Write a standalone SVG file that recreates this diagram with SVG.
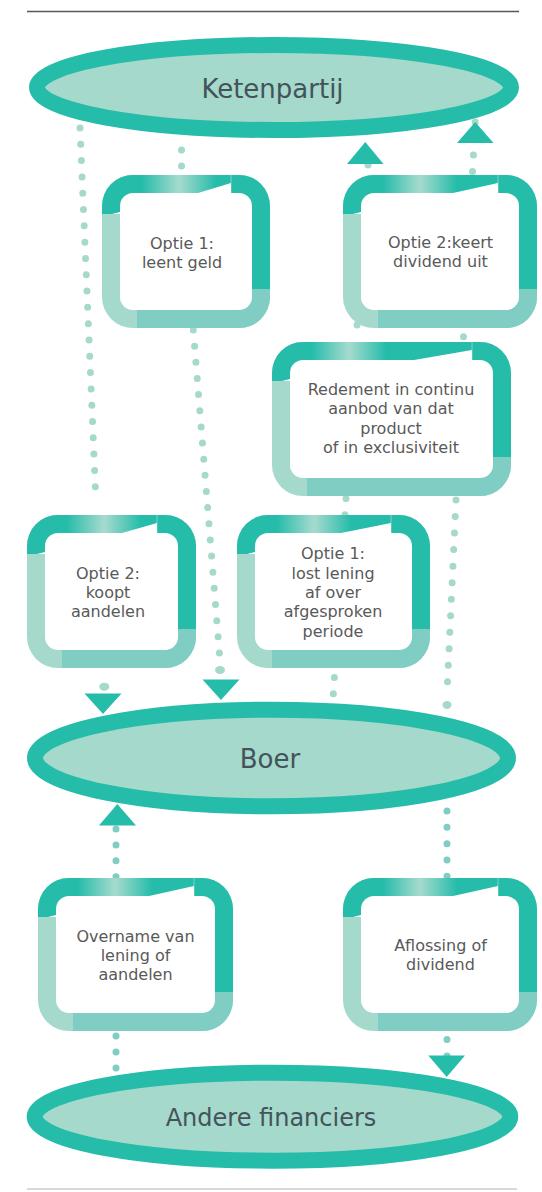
<svg xmlns="http://www.w3.org/2000/svg" width="542" height="1192" viewBox="0 0 542 1192">
<style>
.dk{fill:#26bcaa}
.md{fill:#80cdc3}
.lt{fill:#a4d9cc}
.wh{fill:#ffffff}
.sep{stroke:#7fd3c6;stroke-width:1}
.bt{font-family:"DejaVu Sans",Verdana,sans-serif;font-size:16px;fill:#595959;text-anchor:middle}
.et{font-family:"DejaVu Sans",Verdana,sans-serif;font-size:26px;fill:#44535b;text-anchor:middle}
.ell{fill:#a4d9cb;stroke:#26bcaa;stroke-width:16}
.dot{fill:none;stroke-width:7;stroke-linecap:round}
.dl{stroke:#a4d9cc}
.dm{stroke:#80cdc3}
.arr{fill:#26bcaa}
</style>
<defs>
<linearGradient id="hl" gradientUnits="userSpaceOnUse" x1="40" y1="0" x2="114" y2="0">
<stop offset="0" stop-color="#a6dbce" stop-opacity="0"/>
<stop offset="0.5" stop-color="#a6dbce" stop-opacity="1"/>
<stop offset="1" stop-color="#a6dbce" stop-opacity="0"/>
</linearGradient>
</defs>

<line x1="27" y1="11.5" x2="519" y2="11.5" stroke="#4f5a60" stroke-width="1.6"/>
<line x1="27" y1="1189" x2="517" y2="1189" stroke="#c8cbcd" stroke-width="1.6"/>

<g id="ketenpartij">
<ellipse class="ell" cx="274" cy="87.5" rx="237" ry="42.5"/>
<text class="et" x="272.5" y="98">Ketenpartij</text>
</g>
<g id="boer">
<ellipse class="ell" cx="271.5" cy="758" rx="236.5" ry="48.3"/>
<text class="et" x="270" y="768">Boer</text>
</g>
<g id="andere-financiers">
<ellipse class="ell" cx="272.5" cy="1116.7" rx="237.8" ry="44"/>
<text class="et" x="271" y="1126" style="font-size:24px">Andere financiers</text>
</g>

<g id="connectors">
<line class="dot dl" x1="80" y1="128" x2="96" y2="503" stroke-dasharray="0 16.32"/>
<ellipse cx="104.3" cy="686.7" rx="5" ry="4" fill="#a4d9cc"/>
<polygon class="arr" points="84.5,693.5 121.5,693.5 103,714"/>

<line class="dot dl" x1="181.5" y1="150" x2="181.5" y2="182" stroke-dasharray="0 16"/>
<line class="dot dl" x1="193.3" y1="330" x2="219.5" y2="654" stroke-dasharray="0 16.2"/>
<ellipse cx="220" cy="670" rx="5" ry="4" fill="#a4d9cc"/>
<polygon class="arr" points="202.5,679.5 239.5,679.5 221,700"/>

<line class="dot dl" x1="368" y1="165" x2="356" y2="341" stroke-dasharray="0 16.04"/>
<polygon class="arr" points="347,164 383.5,164 365.3,142"/>

<line class="dot dl" x1="475.2" y1="122" x2="463.5" y2="337" stroke-dasharray="0 16.54"/>
<polygon class="arr" points="457,143 493.5,143 475.2,122"/>

<line class="dot dl" x1="346" y1="498.5" x2="333.3" y2="694" stroke-dasharray="0 16.3"/>

<line class="dot dl" x1="456" y1="500" x2="447.5" y2="682" stroke-dasharray="0 16.55"/>
<ellipse cx="447" cy="705" rx="4.5" ry="4" fill="#a4d9cc"/>

<line class="dot dm" x1="447" y1="811" x2="447" y2="1056" stroke-dasharray="0 16.33"/>
<polygon class="arr" points="428.3,1055.5 465,1055.5 446.7,1077"/>

<line class="dot dm" x1="116" y1="829" x2="116" y2="1068" stroke-dasharray="0 15.93"/>
<polygon class="arr" points="99,825.5 136,825.5 117.3,804"/>
</g>

<g id="box-optie1-leent" transform="translate(102,175)">
<rect class="lt" width="168" height="153" rx="31"/>
<path class="md" d="M35,114 H168 V122 A31,31 0 0 1 137,153 H35 Z"/>
<path class="dk" d="M129,0 H137 A31,31 0 0 1 168,31 V114 H129 Z"/>
<path class="dk" d="M0,39 V31 A31,31 0 0 1 31,0 H129 V39 Z"/>
<rect x="40" y="0" width="74" height="18" fill="url(#hl)"/>
<line class="sep" x1="129" y1="0" x2="129" y2="18"/>
<rect class="wh" x="18" y="18" width="132" height="117" rx="13"/>
<polygon class="wh" points="96,18 129,8 129,18"/>
<polygon class="wh" points="10,39 18,37 18,39"/>
<text class="bt" x="80" y="74.3">Optie 1:</text>
<text class="bt" x="80" y="92.6">leent geld</text>
</g>

<g id="box-optie2-dividend" transform="translate(343,175)">
<rect class="lt" width="194" height="153" rx="31"/>
<path class="md" d="M35,114 H194 V122 A31,31 0 0 1 163,153 H35 Z"/>
<path class="dk" d="M155,0 H163 A31,31 0 0 1 194,31 V114 H155 Z"/>
<path class="dk" d="M0,39 V31 A31,31 0 0 1 31,0 H155 V39 Z"/>
<rect x="40" y="0" width="74" height="18" fill="url(#hl)"/>
<line class="sep" x1="155" y1="0" x2="155" y2="18"/>
<rect class="wh" x="18" y="18" width="158" height="117" rx="13"/>
<polygon class="wh" points="110,18 155,8 155,18"/>
<polygon class="wh" points="10,39 18,37 18,39"/>
<text class="bt" x="97.5" y="73.3">Optie 2:keert</text>
<text class="bt" x="97.5" y="92.3">dividend uit</text>
</g>

<g id="box-redement" transform="translate(272,342)">
<rect class="lt" width="239" height="154" rx="31"/>
<path class="md" d="M35,115 H239 V123 A31,31 0 0 1 208,154 H35 Z"/>
<path class="dk" d="M200,0 H208 A31,31 0 0 1 239,31 V115 H200 Z"/>
<path class="dk" d="M0,39 V31 A31,31 0 0 1 31,0 H200 V39 Z"/>
<rect x="40" y="0" width="74" height="18" fill="url(#hl)"/>
<line class="sep" x1="200" y1="0" x2="200" y2="18"/>
<rect class="wh" x="18" y="18" width="203" height="118" rx="13"/>
<polygon class="wh" points="142,18 200,8 200,18"/>
<polygon class="wh" points="10,39 18,37 18,39"/>
<text class="bt" x="119" y="53">Redement in continu</text>
<text class="bt" x="119" y="72.4">aanbod van dat</text>
<text class="bt" x="119" y="91.8">product</text>
<text class="bt" x="119" y="111.2">of in exclusiviteit</text>
</g>

<g id="box-optie2-aandelen" transform="translate(27,515)">
<rect class="lt" width="169" height="153" rx="31"/>
<path class="md" d="M35,114 H169 V122 A31,31 0 0 1 138,153 H35 Z"/>
<path class="dk" d="M130,0 H138 A31,31 0 0 1 169,31 V114 H130 Z"/>
<path class="dk" d="M0,39 V31 A31,31 0 0 1 31,0 H130 V39 Z"/>
<rect x="40" y="0" width="74" height="18" fill="url(#hl)"/>
<line class="sep" x1="130" y1="0" x2="130" y2="18"/>
<rect class="wh" x="18" y="18" width="133" height="117" rx="13"/>
<polygon class="wh" points="95,18 130,8 130,18"/>
<polygon class="wh" points="10,39 18,37 18,39"/>
<text class="bt" x="81" y="63.5">Optie 2:</text>
<text class="bt" x="81" y="82.5">koopt</text>
<text class="bt" x="81" y="101.5">aandelen</text>
</g>

<g id="box-optie1-lost" transform="translate(237,515)">
<rect class="lt" width="193" height="153" rx="31"/>
<path class="md" d="M35,114 H193 V122 A31,31 0 0 1 162,153 H35 Z"/>
<path class="dk" d="M154,0 H162 A31,31 0 0 1 193,31 V114 H154 Z"/>
<path class="dk" d="M0,39 V31 A31,31 0 0 1 31,0 H154 V39 Z"/>
<rect x="40" y="0" width="74" height="18" fill="url(#hl)"/>
<line class="sep" x1="154" y1="0" x2="154" y2="18"/>
<rect class="wh" x="18" y="18" width="157" height="117" rx="13"/>
<polygon class="wh" points="104,18 154,8 154,18"/>
<polygon class="wh" points="10,39 18,37 18,39"/>
<text class="bt" x="96" y="44.3">Optie 1:</text>
<text class="bt" x="96" y="63.6">lost lening</text>
<text class="bt" x="96" y="82.9">af over</text>
<text class="bt" x="96" y="102.2">afgesproken</text>
<text class="bt" x="96" y="121.5">periode</text>
</g>

<g id="box-overname" transform="translate(38,878)">
<rect class="lt" width="195" height="153" rx="31"/>
<path class="md" d="M35,114 H195 V122 A31,31 0 0 1 164,153 H35 Z"/>
<path class="dk" d="M156,0 H164 A31,31 0 0 1 195,31 V114 H156 Z"/>
<path class="dk" d="M0,39 V31 A31,31 0 0 1 31,0 H156 V39 Z"/>
<rect x="40" y="0" width="74" height="18" fill="url(#hl)"/>
<line class="sep" x1="156" y1="0" x2="156" y2="18"/>
<rect class="wh" x="18" y="18" width="159" height="117" rx="13"/>
<polygon class="wh" points="111,18 156,8 156,18"/>
<polygon class="wh" points="10,39 18,37 18,39"/>
<text class="bt" x="97.5" y="63.5">Overname van</text>
<text class="bt" x="97.5" y="82.5">lening of</text>
<text class="bt" x="97.5" y="101.5">aandelen</text>
</g>

<g id="box-aflossing" transform="translate(343,878)">
<rect class="lt" width="194" height="153" rx="31"/>
<path class="md" d="M35,114 H194 V122 A31,31 0 0 1 163,153 H35 Z"/>
<path class="dk" d="M155,0 H163 A31,31 0 0 1 194,31 V114 H155 Z"/>
<path class="dk" d="M0,39 V31 A31,31 0 0 1 31,0 H155 V39 Z"/>
<rect x="40" y="0" width="74" height="18" fill="url(#hl)"/>
<line class="sep" x1="155" y1="0" x2="155" y2="18"/>
<rect class="wh" x="18" y="18" width="158" height="117" rx="13"/>
<polygon class="wh" points="110,18 155,8 155,18"/>
<polygon class="wh" points="10,39 18,37 18,39"/>
<text class="bt" x="97.5" y="72.7">Aflossing of</text>
<text class="bt" x="97.5" y="92">dividend</text>
</g>
</svg>
